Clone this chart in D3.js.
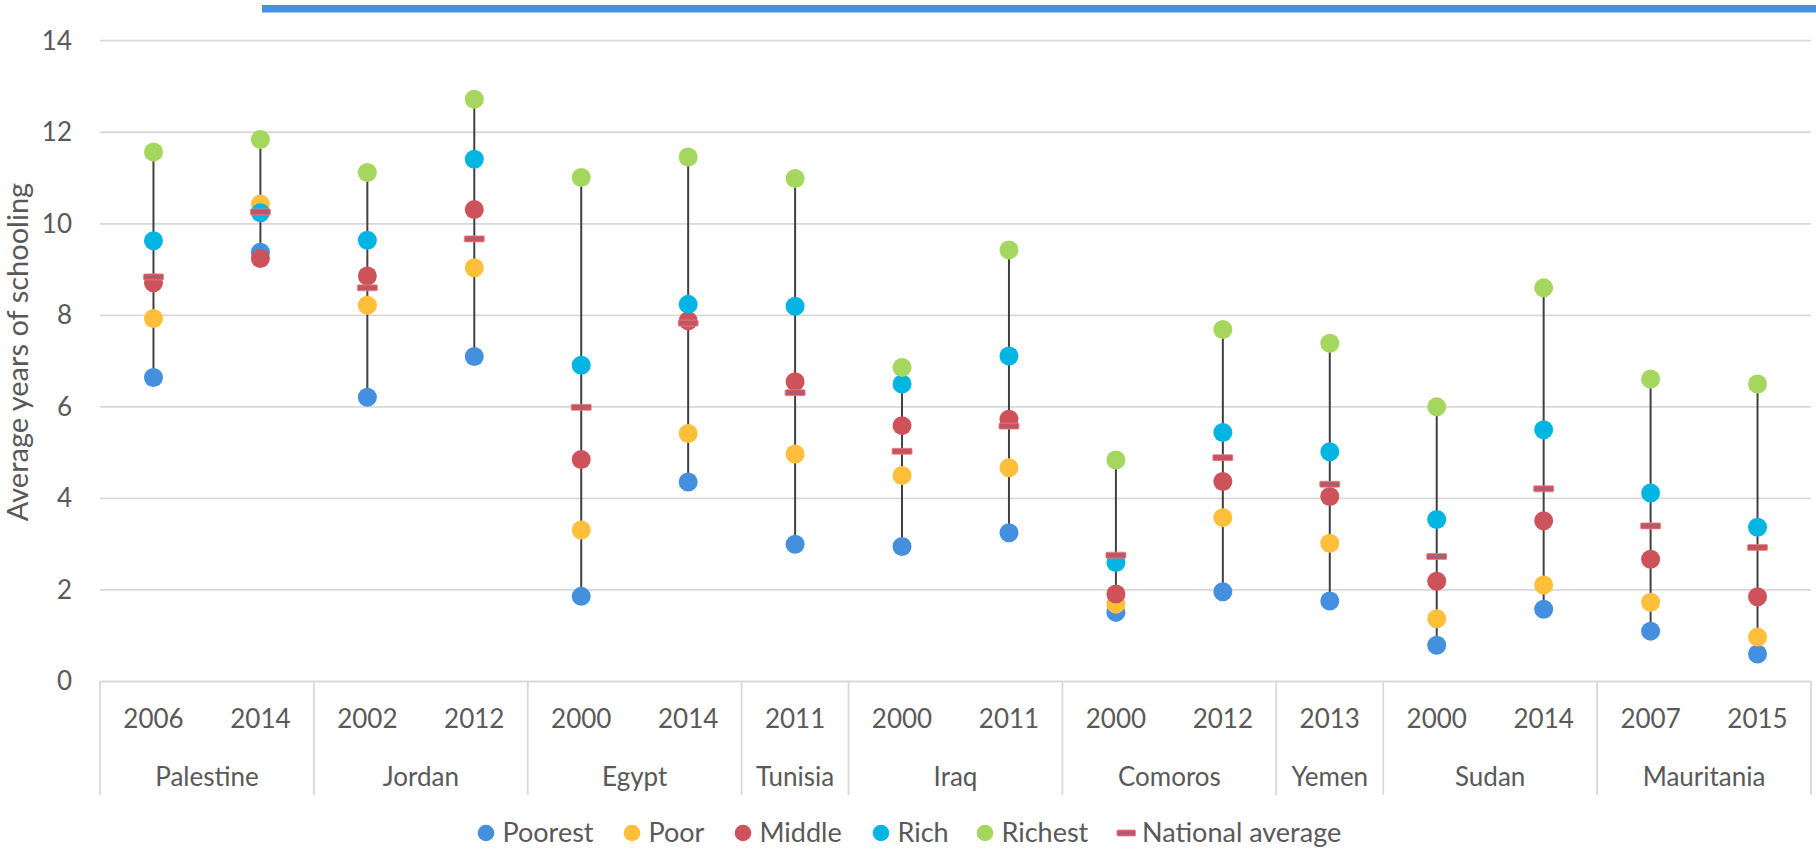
<!DOCTYPE html>
<html>
<head>
<meta charset="utf-8">
<script src="https://cdn.jsdelivr.net/npm/d3@7"></script>
<style>
  html, body { margin: 0; padding: 0; background: #fff; }
  svg { display: block; font-family: Lato, "Open Sans", sans-serif; }
</style>
</head>
<body>
<svg id="chart" width="1816" height="852"></svg>
<script>
// ---- data ----
const countries = ["Palestine", "Palestine", "Jordan", "Jordan", "Egypt", "Egypt", "Tunisia", "Iraq", "Iraq",
                   "Comoros", "Comoros", "Yemen", "Sudan", "Sudan", "Mauritania", "Mauritania"];
const years = ["2006", "2014", "2002", "2012", "2000", "2014", "2011", "2000", "2011",
               "2000", "2012", "2013", "2000", "2014", "2007", "2015"];
const poorest = [6.64, 9.38, 6.21, 7.10, 1.86, 4.36, 3.00, 2.95, 3.25, 1.51, 1.96, 1.76, 0.79, 1.58, 1.10, 0.60];
const poor    = [7.93, 10.43, 8.22, 9.04, 3.31, 5.42, 4.97, 4.50, 4.67, 1.69, 3.58, 3.02, 1.37, 2.11, 1.73, 0.97];
const middle  = [8.71, 9.24, 8.86, 10.31, 4.85, 7.88, 6.55, 5.59, 5.73, 1.91, 4.37, 4.04, 2.19, 3.51, 2.67, 1.85];
const rich    = [9.63, 10.24, 9.64, 11.41, 6.91, 8.24, 8.20, 6.50, 7.11, 2.60, 5.44, 5.02, 3.54, 5.50, 4.12, 3.37];
const richest = [11.57, 11.84, 11.12, 12.72, 11.01, 11.46, 10.99, 6.86, 9.43, 4.84, 7.69, 7.39, 6.00, 8.60, 6.61, 6.50];
const national = [8.84, 10.26, 8.60, 9.67, 5.99, 7.83, 6.31, 5.03, 5.58, 2.76, 4.89, 4.31, 2.73, 4.21, 3.40, 2.93];
const yTicks = [0, 2, 4, 6, 8, 10, 12, 14];
const seriesNames = ["Poorest", "Poor", "Middle", "Rich", "Richest"];
const seriesColors = ["#448FDE", "#FFBF3B", "#CD525A", "#00B5E2", "#A5D65D"];
const nationalName = "National average";
const nationalColor = "#CD525A";

// ---- layout ----
const svg = d3.select("#chart");
const plotLeft = 100, plotRight = 1811, plotTop = 40.7, plotBottom = 681.5;
const idx = d3.range(years.length);
const x = d3.scaleBand().domain(idx).range([plotLeft, plotRight]).padding(0);
const y = d3.scaleLinear().domain([0, 14]).range([plotBottom, plotTop]);
const cx = i => x(i) + x.bandwidth() / 2;
const textColor = "#595959";
const gridColor = "#D9D9D9";

// top blue bar
svg.append("rect").attr("x", 262).attr("y", 5).attr("width", 1816 - 262).attr("height", 7.5).attr("fill", "#4592E0");

// gridlines
svg.append("g").selectAll("line").data(yTicks.filter(d => d !== 0)).join("line")
  .attr("x1", plotLeft).attr("x2", plotRight)
  .attr("y1", d => y(d)).attr("y2", d => y(d))
  .attr("stroke", gridColor).attr("stroke-width", 1.8);

// y axis labels
const yAxis = d3.axisLeft(y).tickValues(yTicks).tickSize(0).tickPadding(0).tickFormat(d3.format("d"));
const gy = svg.append("g").attr("transform", `translate(72,0)`).call(yAxis);
gy.select(".domain").remove();
gy.selectAll("text").attr("fill", textColor).style("font-size", "26px").style("font-family", "Lato, sans-serif");

// y axis title
svg.append("text")
  .attr("transform", `translate(28,352) rotate(-90)`)
  .attr("text-anchor", "middle")
  .attr("fill", textColor)
  .style("font-size", "29px")
  .text("Average years of schooling");

// baseline
svg.append("line").attr("x1", plotLeft).attr("x2", plotRight).attr("y1", y(0)).attr("y2", y(0))
  .attr("stroke", gridColor).attr("stroke-width", 1.8);

// group computation
const groups = [];
countries.forEach((c, i) => {
  if (groups.length && groups[groups.length - 1].name === c) groups[groups.length - 1].end = i;
  else groups.push({ name: c, start: i, end: i });
});
const boundaries = [plotLeft].concat(groups.map(g => x(g.end) + x.bandwidth()));
svg.append("g").selectAll("line").data(boundaries).join("line")
  .attr("x1", d => d).attr("x2", d => d)
  .attr("y1", y(0)).attr("y2", 795)
  .attr("stroke", gridColor).attr("stroke-width", 1.8);

// year labels
svg.append("g").selectAll("text").data(idx).join("text")
  .attr("x", cx).attr("y", 728)
  .attr("text-anchor", "middle").attr("fill", textColor).style("font-size", "26px")
  .text(i => years[i]);

// country labels
svg.append("g").selectAll("text").data(groups).join("text")
  .attr("x", g => (x(g.start) + x(g.end) + x.bandwidth()) / 2).attr("y", 786)
  .attr("text-anchor", "middle").attr("fill", textColor).style("font-size", "26px")
  .text(g => g.name);

// high-low lines
const allSeries = [poorest, poor, middle, rich, richest];
svg.append("g").selectAll("line").data(idx).join("line")
  .attr("x1", cx).attr("x2", cx)
  .attr("y1", i => y(d3.max([...allSeries.map(s => s[i]), national[i]])))
  .attr("y2", i => y(d3.min([...allSeries.map(s => s[i]), national[i]])))
  .attr("stroke", "#404040").attr("stroke-width", 2);

// markers
allSeries.forEach((s, k) => {
  svg.append("g").selectAll("circle").data(idx).join("circle")
    .attr("cx", cx).attr("cy", i => y(s[i])).attr("r", 9.5)
    .attr("fill", seriesColors[k]);
});

// national average dashes
const nat = svg.append("g");
nat.selectAll("rect").data(idx).join("rect")
  .attr("x", i => cx(i) - 10).attr("y", i => y(national[i]) - 3)
  .attr("width", 20).attr("height", 6).attr("rx", 1)
  .attr("fill", nationalColor).attr("stroke", "#E3848B").attr("stroke-width", 0.8);
nat.selectAll("line").data(idx).join("line")
  .attr("x1", i => cx(i) - 8).attr("x2", i => cx(i) + 8)
  .attr("y1", i => y(national[i])).attr("y2", i => y(national[i]))
  .attr("stroke", "#7D6BA6").attr("stroke-width", 0.8);

// legend
const legendX = [486, 632, 743, 881, 985];
const leg = svg.append("g");
seriesNames.forEach((n, k) => {
  leg.append("circle").attr("cx", legendX[k]).attr("cy", 833).attr("r", 8.3).attr("fill", seriesColors[k]);
  leg.append("text").attr("x", legendX[k] + 16.5).attr("y", 842).attr("fill", textColor)
    .style("font-size", "27px").text(n);
});
leg.append("rect").attr("x", 1117).attr("y", 830).attr("width", 18.5).attr("height", 6).attr("rx", 1)
  .attr("fill", nationalColor).attr("stroke", "#E3848B").attr("stroke-width", 0.8);
leg.append("line").attr("x1", 1119).attr("x2", 1133).attr("y1", 833).attr("y2", 833)
  .attr("stroke", "#7D6BA6").attr("stroke-width", 0.8);
leg.append("text").attr("x", 1142).attr("y", 842).attr("fill", textColor)
  .style("font-size", "27px").text(nationalName);
</script>
</body>
</html>
